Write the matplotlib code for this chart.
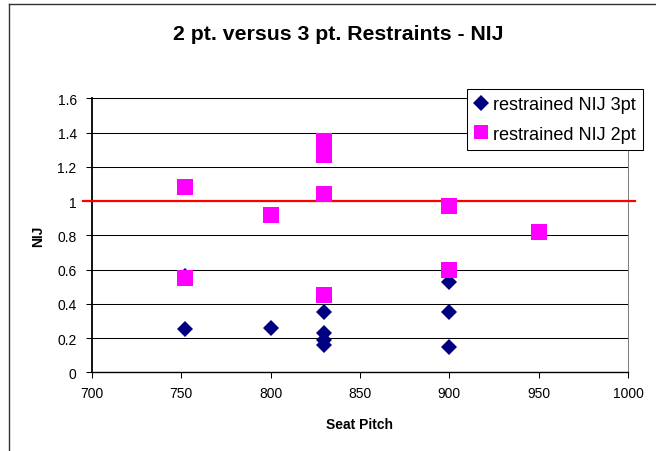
import numpy as np
import matplotlib.pyplot as plt
from matplotlib.ticker import FormatStrFormatter
from matplotlib.lines import Line2D

plt.rcParams['font.family'] = ['Liberation Sans', 'DejaVu Sans']

#######################################################
# values
PITCH_3PT = [752, 752, 800, 830, 830, 830, 830, 900, 900, 900]
NIJ_3PT = [0.56, 0.25, 0.26, 0.35, 0.23, 0.19, 0.16, 0.53, 0.35, 0.15]

PITCH_2PT = [752, 752, 800, 830, 830, 830, 830, 900, 900, 950]
NIJ_2PT = [1.08, 0.55, 0.92, 1.35, 1.27, 1.04, 0.45, 0.97, 0.60, 0.82]

LIMIT_X = [695, 1004]
LIMIT_Y = [1.0, 1.0]

X_TICKS = [700, 750, 800, 850, 900, 950, 1000]
Y_TICKS = [0, 0.2, 0.4, 0.6, 0.8, 1.0, 1.2, 1.4, 1.6]
#######################################################

fig = plt.figure(figsize=(6.56, 4.52), dpi=100)
ax = fig.add_axes([92 / 656, 1 - 373.3 / 452, 536 / 656, 274 / 452])

# frame of the chart area (only left and top visible in the reference)
fig.add_artist(Line2D([9 / 656, 9 / 656], [0, 1 - 5 / 452], color='#333333', lw=1))
fig.add_artist(Line2D([9 / 656, 1], [1 - 5 / 452, 1 - 5 / 452], color='#333333', lw=1))

ax.set_xlim(700, 1000)
ax.set_ylim(0, 1.6)
ax.set_xticks(X_TICKS)
ax.set_yticks(Y_TICKS)
ax.yaxis.set_major_formatter(FormatStrFormatter('%g'))
ax.grid(axis='y', color='black', lw=0.75)
ax.set_axisbelow(True)

ax.spines['top'].set_color('black')
ax.spines['top'].set_linewidth(0.75)
ax.spines['right'].set_color('#808080')
ax.spines['right'].set_linewidth(0.75)
ax.spines['left'].set_linewidth(1.3)
ax.spines['bottom'].set_linewidth(1.0)
ax.tick_params(direction='out', length=4, width=0.75, labelsize=10)
ax.tick_params(axis='x', pad=6)
ax.tick_params(axis='y', pad=7)

ax.plot(LIMIT_X, LIMIT_Y, color='red', lw=1.6, clip_on=False, zorder=3)

ax.plot(PITCH_3PT, NIJ_3PT, ls='none', marker='D', ms=8.2, mew=0,
        color='#000080', label='restrained NIJ 3pt', zorder=4)
ax.plot(PITCH_2PT, NIJ_2PT, ls='none', marker='s', ms=11.3, mew=0,
        color='#FF00FF', label='restrained NIJ 2pt', zorder=5)

ax.set_xlabel('Seat Pitch', fontsize=10, fontweight='bold', labelpad=12)
ax.set_ylabel('NIJ', fontsize=10, fontweight='bold', labelpad=9)
fig.text(338 / 656, 1 - 35 / 452, '2 pt. versus 3 pt. Restraints - NIJ',
         fontsize=15.3, fontweight='bold', ha='center', va='center')

leg = ax.legend(loc='upper left', bbox_to_anchor=(467.3 / 656, 1 - 90 / 452),
                bbox_transform=fig.transFigure, fontsize=13.1, frameon=True,
                fancybox=False, edgecolor='black', framealpha=1,
                handlelength=0.73, handletextpad=0.27, borderpad=0.41,
                labelspacing=0.68, borderaxespad=0)
leg.get_frame().set_linewidth(0.75)
leg.legend_handles[1].set_markersize(9.4)

fig.savefig('out.png', dpi=100)
